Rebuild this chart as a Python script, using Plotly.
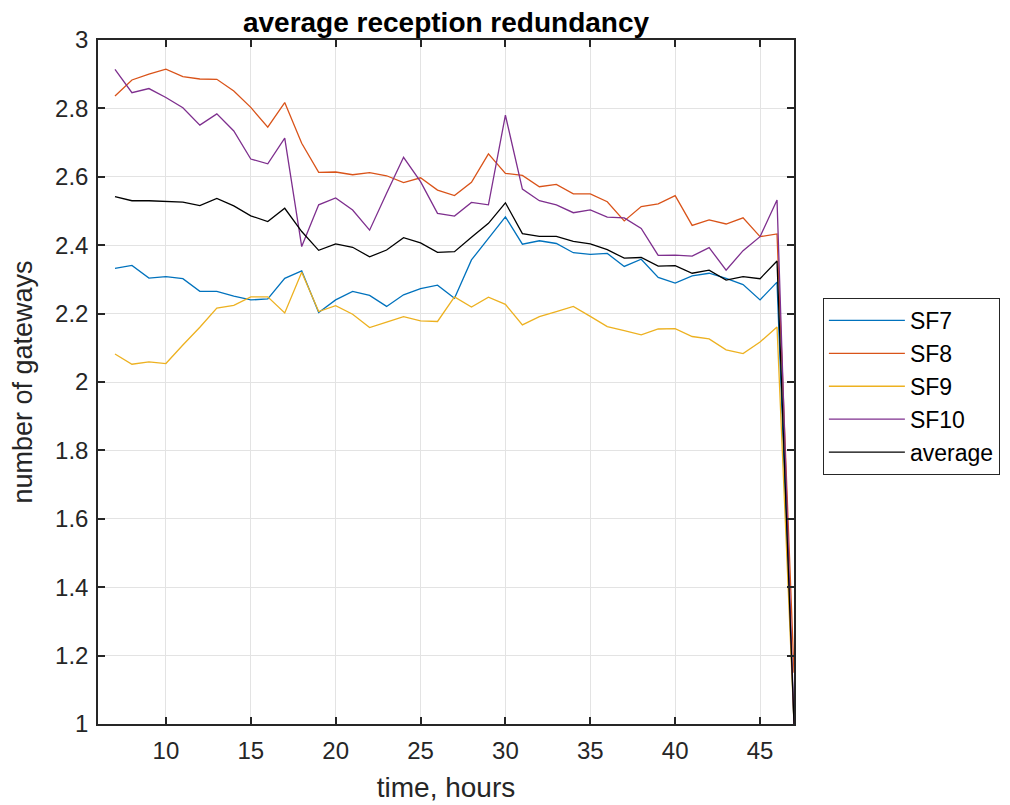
import plotly.graph_objects as go

hours = list(range(7, 48))

sf7 = [2.332, 2.341, 2.304, 2.308, 2.302, 2.265, 2.265, 2.251, 2.240, 2.243,
       2.303, 2.325, 2.203, 2.240, 2.265, 2.253, 2.221, 2.255, 2.273, 2.283,
       2.245, 2.357, 2.420, 2.483, 2.403, 2.413, 2.405, 2.378, 2.373, 2.376,
       2.338, 2.359, 2.306, 2.289, 2.310, 2.318, 2.303, 2.285, 2.240, 2.292,
       1.0]
sf8 = [2.836, 2.883, 2.900, 2.915, 2.893, 2.886, 2.885, 2.851, 2.803, 2.745,
       2.817, 2.698, 2.613, 2.614, 2.606, 2.612, 2.603, 2.583, 2.597, 2.561,
       2.545, 2.584, 2.667, 2.610, 2.604, 2.571, 2.578, 2.550, 2.550, 2.527,
       2.471, 2.513, 2.521, 2.545, 2.458, 2.474, 2.462, 2.480, 2.425, 2.433,
       1.15]
sf9 = [2.082, 2.052, 2.059, 2.054, 2.108, 2.160, 2.216, 2.224, 2.249, 2.249,
       2.202, 2.321, 2.206, 2.223, 2.198, 2.159, 2.175, 2.191, 2.179, 2.177,
       2.249, 2.219, 2.248, 2.227, 2.167, 2.191, 2.206, 2.221, 2.192, 2.162,
       2.150, 2.138, 2.155, 2.156, 2.133, 2.126, 2.094, 2.083, 2.117, 2.161,
       1.0]
sf10 = [2.914, 2.846, 2.858, 2.832, 2.802, 2.751, 2.784, 2.734, 2.652, 2.638,
        2.713, 2.396, 2.518, 2.538, 2.503, 2.444, 2.552, 2.657, 2.586, 2.493,
        2.485, 2.525, 2.518, 2.780, 2.564, 2.530, 2.518, 2.495, 2.503, 2.482,
        2.480, 2.449, 2.370, 2.371, 2.368, 2.393, 2.327, 2.384, 2.425, 2.532,
        1.0]
average = [2.542, 2.530, 2.530, 2.527, 2.526, 2.516, 2.537, 2.515, 2.486, 2.469,
           2.508, 2.440, 2.385, 2.404, 2.394, 2.366, 2.386, 2.422, 2.407, 2.379,
           2.381, 2.423, 2.464, 2.524, 2.434, 2.426, 2.426, 2.411, 2.404, 2.387,
           2.362, 2.364, 2.339, 2.340, 2.318, 2.327, 2.298, 2.308, 2.302, 2.354,
           1.0]

series = [
    ("SF7", sf7, "#0072BD"),
    ("SF8", sf8, "#D95319"),
    ("SF9", sf9, "#EDB120"),
    ("SF10", sf10, "#7E2F8E"),
    ("average", average, "#000000"),
]

FONT = "Arial, Liberation Sans, Helvetica, sans-serif"
AX = "#262626"

fig = go.Figure()
for name, vals, col in series:
    fig.add_trace(go.Scatter(x=hours, y=vals, mode="lines", name=name,
                             line=dict(color=col, width=1.3)))

axis_common = dict(
    showgrid=True, gridcolor="#e3e3e3", gridwidth=1,
    showline=True, linecolor=AX, linewidth=1.5, mirror="ticks",
    ticks="inside", ticklen=7, tickcolor=AX, tickwidth=1.5,
    zeroline=False,
    tickfont=dict(family=FONT, size=24, color=AX),
)

fig.update_xaxes(range=[6, 47], tick0=10, dtick=5, ticklabelstandoff=4,
                 title=dict(text="time, hours", font=dict(family=FONT, size=28, color=AX), standoff=15),
                 **axis_common)
fig.update_yaxes(range=[1, 3], tick0=1, dtick=0.2, ticklabelstandoff=3,
                 title=dict(text="number of gateways", font=dict(family=FONT, size=27, color=AX), standoff=16),
                 **axis_common)

fig.update_layout(
    width=1010, height=805,
    margin=dict(l=87, r=224, t=32, b=89),
    paper_bgcolor="white", plot_bgcolor="white",
    font=dict(family=FONT, color=AX),
    title=dict(text="<b>average reception redundancy</b>", x=0.5, xref="paper",
               y=1 - 14 / 805, yref="container", yanchor="middle",
               font=dict(family=FONT, size=28, color="black")),
    legend=dict(x=1.0415, y=0.6228, xanchor="left", yanchor="top",
                bordercolor=AX, borderwidth=1, bgcolor="white",
                font=dict(family=FONT, size=23, color="black"),
                tracegroupgap=0, itemwidth=76),
    showlegend=True,
)

fig.write_html("out.html")
